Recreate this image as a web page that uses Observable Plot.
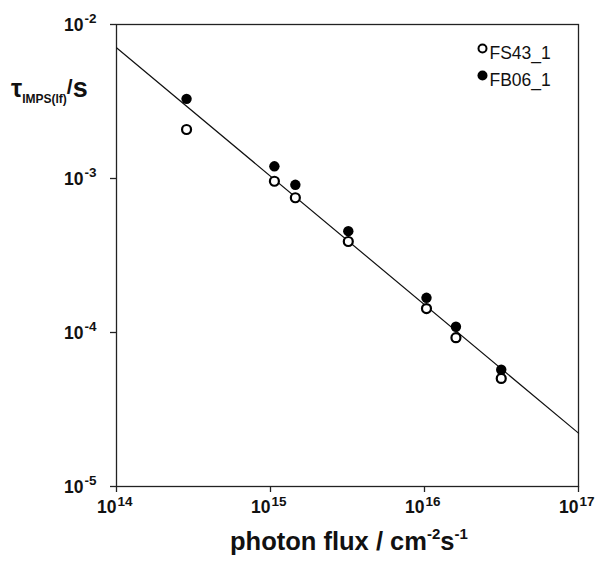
<!DOCTYPE html>
<html><head><meta charset="utf-8">
<script src="https://cdn.jsdelivr.net/npm/d3@7"></script>
<script src="https://cdn.jsdelivr.net/npm/@observablehq/plot@0.6"></script>
<style>body{margin:0;background:#fff} svg{font-family:"Liberation Sans",Arial,sans-serif}</style>
</head><body><div id="chart"></div>
<script>
const photonFlux = [2.85e14, 1.06e15, 1.45e15, 3.2e15, 1.03e16, 1.6e16, 3.15e16];
const tauFS43 = [2.08e-3, 9.6e-4, 7.5e-4, 3.9e-4, 1.43e-4, 9.25e-5, 5.03e-5];
const tauFB06 = [3.29e-3, 1.2e-3, 9.1e-4, 4.55e-4, 1.68e-4, 1.09e-4, 5.73e-5];
const fitFlux = [1e14, 1e17];
const fitTau = [7.06e-3, 2.22e-5];
const xTicks = [1e14, 1e15, 1e16, 1e17];
const xTickExp = ["14", "15", "16", "17"];
const yTicks = [1e-5, 1e-4, 1e-3, 1e-2];
const yTickExp = ["-5", "-4", "-3", "-2"];
const seriesNames = ["FS43_1", "FB06_1"];
const legendRowDy = [24, 51];

const fs = photonFlux.map((x, i) => ({x, y: tauFS43[i]}));
const fb = photonFlux.map((x, i) => ({x, y: tauFB06[i]}));
const fit = fitFlux.map((x, i) => ({x, y: fitTau[i]}));
const ink = "#111";
const lineCol = "#222";

const plot = Plot.plot({
  width: 600, height: 563,
  marginLeft: 116, marginRight: 22, marginTop: 24, marginBottom: 77,
  style: {fontFamily: '"Liberation Sans", Arial, sans-serif', background: "white", color: ink},
  x: {type: "log", domain: [1e14, 1e17]},
  y: {type: "log", domain: [1e-5, 1e-2]},
  marks: [
    Plot.frame({stroke: lineCol, strokeWidth: 1.3}),
    Plot.axisX({ticks: xTicks, tickFormat: () => "", tickSize: 6, stroke: lineCol, strokeWidth: 1.3, label: null}),
    Plot.axisY({ticks: yTicks, tickFormat: () => "", tickSize: 6, stroke: lineCol, strokeWidth: 1.3, label: null}),
    Plot.text(xTicks, {x: d => d, frameAnchor: "bottom", text: () => "10", textAnchor: "end", dy: 26, fontSize: 17.5, fontWeight: "bold", fill: ink}),
    Plot.text(xTicks, {x: d => d, frameAnchor: "bottom", text: (d, i) => xTickExp[i], textAnchor: "start", dx: 1, dy: 19, fontSize: 13.5, fontWeight: "bold", fill: ink}),
    Plot.text(yTicks, {y: d => d, frameAnchor: "left", text: () => "10", textAnchor: "end", dx: -33, dy: 1, fontSize: 17.5, fontWeight: "bold", fill: ink}),
    Plot.text(yTicks, {y: d => d, frameAnchor: "left", text: (d, i) => yTickExp[i], textAnchor: "start", dx: -32, dy: -6, fontSize: 13.5, fontWeight: "bold", fill: ink}),
    Plot.line(fit, {x: "x", y: "y", stroke: "#111", strokeWidth: 1.2}),
    Plot.dot(fs, {x: "x", y: "y", r: 4.5, stroke: "#000", strokeWidth: 2.2, fill: "white"}),
    Plot.dot(fb, {x: "x", y: "y", r: 5.2, fill: "#000", stroke: "none"}),
    Plot.dot([seriesNames[0]], {frameAnchor: "top-right", dx: -96, dy: legendRowDy[0], r: 4, stroke: "#000", strokeWidth: 2, fill: "white"}),
    Plot.dot([seriesNames[1]], {frameAnchor: "top-right", dx: -96, dy: legendRowDy[1], r: 5, fill: "#000", stroke: "none"}),
    Plot.text([seriesNames[0]], {frameAnchor: "top-right", text: d => d, textAnchor: "start", dx: -89, dy: legendRowDy[0] - 2, fontSize: 17.5, fill: ink}),
    Plot.text([seriesNames[1]], {frameAnchor: "top-right", text: d => d, textAnchor: "start", dx: -89, dy: legendRowDy[1] - 2, fontSize: 17.5, fill: ink})
  ]
});

const svg = d3.select(plot);
// y axis title: τ_IMPS(lf)/s
const yt = svg.append("text").attr("x", 11).attr("y", 97).attr("fill", ink).attr("font-weight", "bold").attr("text-anchor", "start");
yt.append("tspan").attr("font-size", 25).text("τ");
yt.append("tspan").attr("font-size", 12).attr("dy", 6).text("IMPS(lf)");
yt.append("tspan").attr("font-size", 21).attr("dy", -9).text("/");
yt.append("tspan").attr("font-size", 27).attr("dy", 3).text("s");
// x axis title: photon flux / cm^-2 s^-1
const xt = svg.append("text").attr("x", 230).attr("y", 550).attr("fill", ink).attr("font-weight", "bold").attr("font-size", 25.5).attr("text-anchor", "start");
xt.append("tspan").text("photon flux / cm");
xt.append("tspan").attr("font-size", 15).attr("dy", -11).text("-2");
xt.append("tspan").attr("dy", 11).text("s");
xt.append("tspan").attr("font-size", 15).attr("dy", -11).text("-1");

document.getElementById("chart").appendChild(plot);
</script>
</body></html>
